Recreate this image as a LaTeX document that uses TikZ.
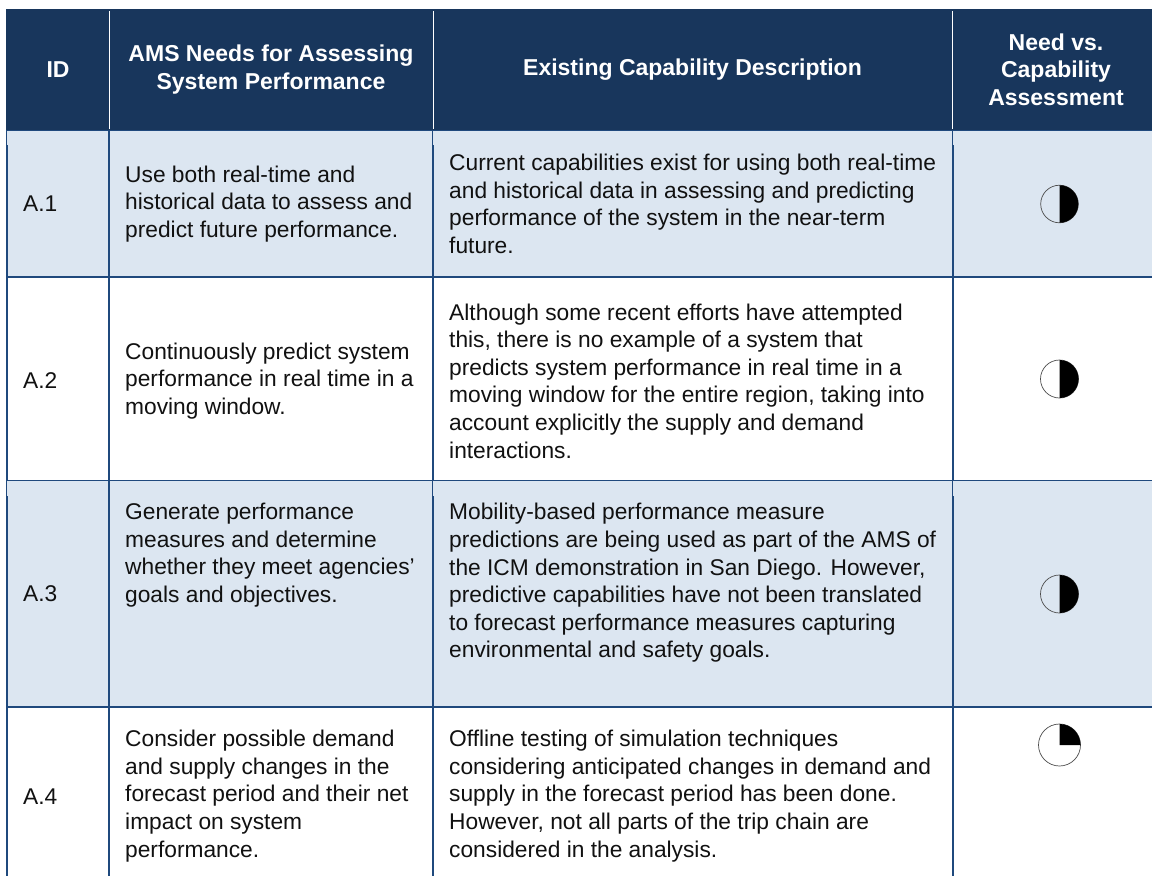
\documentclass[tikz,border=0pt]{standalone}
\usepackage{fontspec}
\setmainfont{Liberation Sans}
\definecolor{headbg}{HTML}{18365C}
\definecolor{rowbg}{HTML}{DCE6F1}
\definecolor{rule}{HTML}{1F497D}
\definecolor{ink}{HTML}{111111}
\newcommand{\bodyfs}{\fontsize{22.75}{27.6}\selectfont}
\newcommand{\headfs}{\fontsize{23}{27.4}\selectfont\bfseries}
\tikzset{
  x=1pt,y=-1pt,
  head/.style={text=white,align=center,anchor=center,font=\headfs,inner sep=0pt},
  cell/.style={text=ink,align=left,anchor=west,font=\bodyfs,inner sep=0pt},
  rowline/.style={draw=rule,line width=1.8pt},
  thinline/.style={draw=rule,line width=1pt},
  headsep/.style={draw=white,line width=1pt},
  dial/.style={draw=black!70,line width=0.7pt},
  dialfill/.style={fill=black}
}
\begin{document}
\begin{tikzpicture}
\useasboundingbox (0,0) rectangle (1152,876);
\fill[white] (0,0) rectangle (1152,876);
% bands
\fill[headbg] (6,9) rectangle (1152,130);
\fill[rowbg] (7,130) rectangle (1152,277);
\fill[rowbg] (7,481) rectangle (1152,707);
% grid
\draw[rowline] (109.3,130) -- (109.3,876);
\foreach \xx in {7,433.3,952.6}{
  \draw[rowline] (\xx,145) -- (\xx,480.5);
  \draw[rowline] (\xx,496) -- (\xx,876);
  \draw[thinline] (\xx-0.4,130) -- (\xx-0.4,145);
  \draw[thinline] (\xx-0.4,481) -- (\xx-0.4,496);
}
\foreach \yy in {277,707}{\draw[rowline] (6,\yy) -- (1152,\yy);}
\draw[thinline] (6,130) -- (1152,130);
\draw[thinline] (6,480.7) -- (1152,480.7);
\draw[headsep] (109.3,11) -- (109.3,129);
\draw[headsep] (433.3,11) -- (433.3,129);
\draw[headsep] (952.3,11) -- (952.3,129);
% header
\node[head] (h1) at (58,70) {ID};
\node[head] (h2) at (271,69.5) {AMS Needs for Assessing\\System Performance};
\node[head] (h3) at (692.5,70) {Existing Capability Description};
\node[head] (h4) at (1056,69.5) {Need vs.\\Capability\\Assessment};
% ids
\node[cell] (a1) at (23,204) {A.1};
\node[cell] (a2) at (23,381) {A.2};
\node[cell] (a3) at (23,594) {A.3};
\node[cell] (a4) at (23,797) {A.4};
% needs
\node[cell] (n1) at (125,204) {Use both real-time and\\historical data to assess and\\predict future performance.};
\node[cell] (n2) at (125,381) {Continuously predict system\\performance in real time in a\\moving window.};
\node[cell] (n3) at (125,555) {Generate performance\\measures and determine\\whether they meet agencies’\\goals and objectives.};
\node[cell] (n4) at (125,796) {Consider possible demand\\and supply changes in the\\forecast period and their net\\impact on system\\performance.};
% capabilities
\node[cell] (c1) at (449,204) {Current capabilities exist for using both real-time\\and historical data in assessing and predicting\\performance of the system in the near-term\\future.};
\node[cell] (c2) at (449,381) {Although some recent efforts have attempted\\this, there is no example of a system that\\predicts system performance in real time in a\\moving window for the entire region, taking into\\account explicitly the supply and demand\\interactions.};
\node[cell] (c3) at (449,583) {Mobility-based performance measure\\predictions are being used as part of the AMS of\\the ICM demonstration in San Diego. However,\\predictive capabilities have not been translated\\to forecast performance measures capturing\\environmental and safety goals.};
\node[cell] (c4) at (449,796) {Offline testing of simulation techniques\\considering anticipated changes in demand and\\supply in the forecast period has been done.\\However, not all parts of the trip chain are\\considered in the analysis.};
% dials
\foreach \cy/\r in {204/18.8,379/19,594/19}{
  \draw[dial] (1059.5,\cy) circle (\r);
  \fill[dialfill] (1059.5,\cy-\r) arc[start angle=-90,end angle=90,radius=\r] -- cycle;
}
\draw[dial] (1059.5,745) circle (21);
\fill[dialfill] (1059.5,745) -- (1059.5,724) arc[start angle=-90,end angle=0,radius=21] -- cycle;
\end{tikzpicture}
\end{document}
